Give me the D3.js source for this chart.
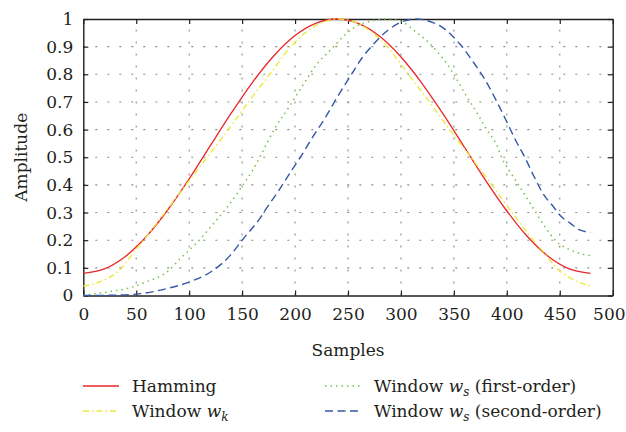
<!DOCTYPE html>
<html><head><meta charset="utf-8">
<script src="https://cdn.jsdelivr.net/npm/d3@7"></script>
<style>
html,body{margin:0;padding:0;background:#fff;}
svg{display:block;}
text{font-family:"DejaVu Serif","Liberation Serif",serif;fill:#231f20;}
</style></head>
<body>
<script>
// ---- data ----
const xTicks = [0,50,100,150,200,250,300,350,400,450,500];
const yTicks = [0,0.1,0.2,0.3,0.4,0.5,0.6,0.7,0.8,0.9,1];
const yTickLabels = ["0","0.1","0.2","0.3","0.4","0.5","0.6","0.7","0.8","0.9","1"];

const hammingN = [0,20,40,60,80,100,120,140,160,180,200,220,240,259,279,299,319,339,359,379,399,419,439,459,479];
const hammingV = [0.08,0.096,0.142,0.215,0.311,0.422,0.542,0.661,0.772,0.867,0.940,0.985,1.0,0.985,0.940,0.867,0.772,0.661,0.542,0.422,0.311,0.215,0.142,0.096,0.08];

const wkN = [0,16,35,50,57,77,97,117,137,156,176,196,217,242,266,287,307,327,346,366,386,405,425,433,447,467,479];
const wkV = [0.034,0.05,0.095,0.168,0.2,0.3,0.4,0.5,0.6,0.7,0.8,0.9,0.97,1.0,0.97,0.9,0.8,0.7,0.6,0.5,0.4,0.3,0.2,0.165,0.1,0.05,0.034];

const ws1N = [0,25,44,60,79,92,107,123,136,149,161,168,181,194,209,220,235,247,257,272,288,301,312,330,343,353,362,372,381,391,395,403,411,419,427,436,447,460,472,479];
const ws1V = [0,0.014,0.028,0.05,0.085,0.135,0.19,0.26,0.32,0.39,0.46,0.51,0.605,0.68,0.77,0.834,0.894,0.942,0.972,0.993,1.0,0.99,0.96,0.9,0.84,0.78,0.72,0.66,0.6,0.54,0.5,0.448,0.4,0.352,0.303,0.249,0.195,0.165,0.149,0.144];

const ws2N = [0,25,50,79,101,123,139,150,167,175,183,191,197,205,216,228,241,254,263,272,288,301,315,328,337,347,356,368,379,391,400,409,417,425,434,444,450,460,469,479];
const ws2V = [0,0.001,0.005,0.025,0.05,0.092,0.146,0.2,0.28,0.327,0.37,0.418,0.454,0.5,0.569,0.64,0.725,0.804,0.858,0.9,0.96,0.99,1.0,0.99,0.975,0.945,0.908,0.846,0.783,0.698,0.628,0.556,0.5,0.436,0.37,0.321,0.291,0.261,0.237,0.228];

const seriesNames = ["Hamming","Window wk","Window ws (first-order)","Window ws (second-order)"];

// ---- chart ----
const W = 626, H = 432;
const pLeft = 83.3, pRight = 612.7, pTop = 19, pBottom = 295.5;
const FS = 17;
const svg = d3.select("body").append("svg").attr("width",W).attr("height",H);

const x = d3.scaleLinear().domain([0,500]).range([pLeft,pRight]);
const y = d3.scaleLinear().domain([0,1]).range([pBottom,pTop]);

// grid
const grid = svg.append("g").attr("stroke","#8a8a8a").attr("stroke-width",1.1).attr("stroke-dasharray","2,10");
grid.selectAll(".vg").data(xTicks.slice(1,-1)).join("line")
  .attr("x1",d=>x(d)).attr("x2",d=>x(d)).attr("y1",pBottom).attr("y2",pTop);
grid.selectAll(".hg").data(yTicks.slice(1,-1)).join("line")
  .attr("y1",d=>y(d)).attr("y2",d=>y(d)).attr("x1",pLeft).attr("x2",pRight);

// axes (ticks inward, mirrored)
const tickLen = 5;
const axB = svg.append("g").attr("transform",`translate(0,${pBottom})`)
  .call(d3.axisBottom(x).tickValues(xTicks).tickSizeInner(-tickLen).tickSizeOuter(0).tickPadding(12));
const axT = svg.append("g").attr("transform",`translate(0,${pTop})`)
  .call(d3.axisTop(x).tickValues(xTicks).tickSizeInner(-tickLen).tickSizeOuter(0).tickFormat(""));
const axL = svg.append("g").attr("transform",`translate(${pLeft},0)`)
  .call(d3.axisLeft(y).tickValues(yTicks).tickSizeInner(-tickLen).tickSizeOuter(0).tickPadding(10)
    .tickFormat((d,i)=>yTickLabels[i]));
const axR = svg.append("g").attr("transform",`translate(${pRight},0)`)
  .call(d3.axisRight(y).tickValues(yTicks).tickSizeInner(-tickLen).tickSizeOuter(0).tickFormat(""));
[axB,axT,axL,axR].forEach(a=>{
  a.select(".domain").attr("stroke","#231f20").attr("stroke-width",1.4);
  a.selectAll(".tick line").attr("stroke","#231f20").attr("stroke-width",1.2);
  a.selectAll("text").attr("font-family","DejaVu Serif").attr("font-size",FS).attr("fill","#231f20");
});
axB.selectAll("text").attr("dy","0.71em");
// last x label sits flush with the right edge as in the reference
axB.selectAll(".tick").filter(d=>d===500).select("text")
  .attr("text-anchor","end").attr("x", W-1-x(500));

// curves
const line = d3.line().x(d=>x(d[0])).y(d=>y(d[1])).curve(d3.curveMonotoneX);
const series = [
  {n:hammingN, v:hammingV, color:"#e8262b", dash:null, w:1.3},
  {n:wkN, v:wkV, color:"#ecea3c", dash:"6,3,1.5,3", w:1.4},
  {n:ws1N, v:ws1V, color:"#74c14a", dash:"1.5,4", w:1.5},
  {n:ws2N, v:ws2V, color:"#3557a8", dash:"8,4.5", w:1.4}
];
const plot = svg.append("g");
series.forEach(s=>{
  plot.append("path").datum(s.n.map((n,i)=>[n,s.v[i]]))
    .attr("d",line).attr("fill","none").attr("stroke",s.color)
    .attr("stroke-width",s.w).attr("stroke-dasharray",s.dash);
});

// axis titles
svg.append("text").attr("x",(pLeft+pRight)/2).attr("y",356).attr("text-anchor","middle")
  .attr("font-size",FS).text("Samples");
svg.append("text").attr("transform",`translate(27,${(pTop+pBottom)/2}) rotate(-90)`)
  .attr("text-anchor","middle").attr("font-size",FS).text("Amplitude");

// legend
const legPos = [
  {lx:83, ty:392, tx:132},
  {lx:83, ty:417, tx:132},
  {lx:325, ty:392, tx:374},
  {lx:325, ty:417, tx:374}
];
const legParts = [
  [{t:"Hamming"}],
  [{t:"Window "},{t:"w",i:true},{t:"k",i:true,sub:true}],
  [{t:"Window "},{t:"w",i:true},{t:"s",i:true,sub:true},{t:" (first-order)"}],
  [{t:"Window "},{t:"w",i:true},{t:"s",i:true,sub:true},{t:" (second-order)"}]
];
const legend = svg.append("g");
series.forEach((s,k)=>{
  const p = legPos[k];
  legend.append("line").attr("x1",p.lx).attr("x2",p.lx+36).attr("y1",p.ty-6).attr("y2",p.ty-6)
    .attr("stroke",s.color).attr("stroke-width",s.w).attr("stroke-dasharray",s.dash);
  const t = legend.append("text").attr("x",p.tx).attr("y",p.ty).attr("font-size",FS);
  let shifted = false;
  legParts[k].forEach(part=>{
    const ts = t.append("tspan").text(part.t);
    if(part.i) ts.attr("font-style","italic");
    if(part.sub){ ts.attr("font-size",12).attr("dy",4); shifted = true; }
    else if(shifted){ ts.attr("dy",-4); shifted = false; }
  });
});
</script>
</body></html>
